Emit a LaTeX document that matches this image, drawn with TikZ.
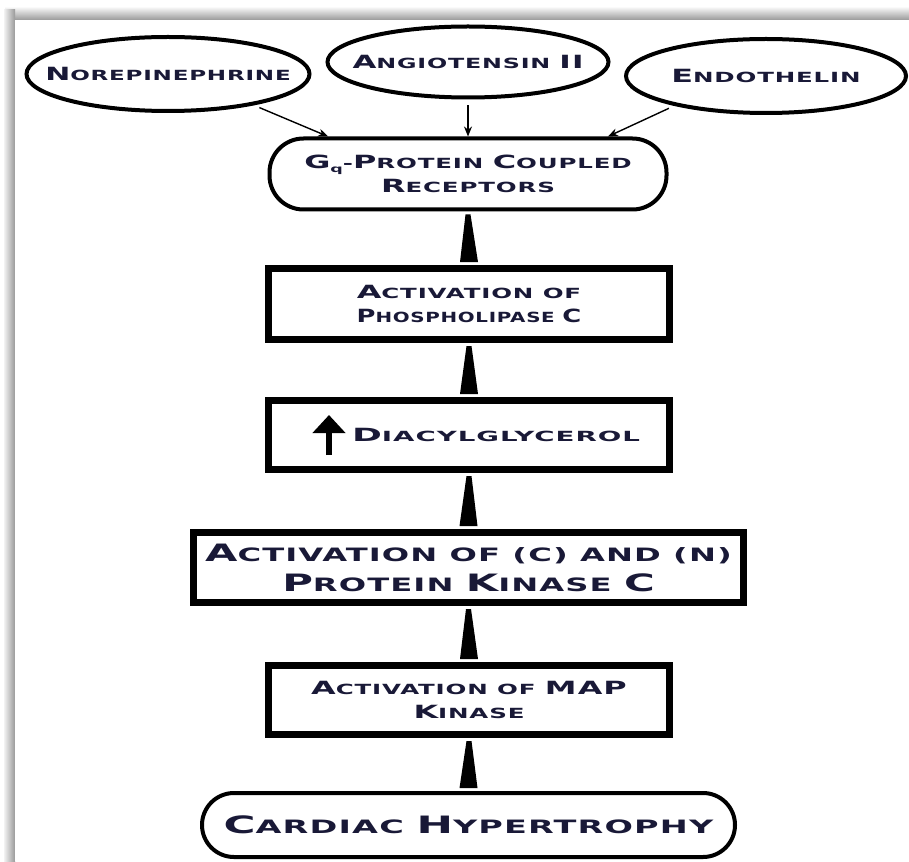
\documentclass[tikz,border=0pt]{standalone}
\usepackage{fontspec}
\usepackage{graphicx}
\usepackage{tikz}
\usetikzlibrary{shapes.geometric,arrows.meta,calc}
\newfontfamily\cpfont[FakeStretch=1.75,LetterSpace=6]{DejaVu Sans}
\definecolor{ink}{RGB}{25,25,55}
\newcommand{\Lc}[1]{\scalebox{1.3}{#1}}
\newcommand{\squeeze}[2]{\scalebox{#1}[1]{#2}}

\begin{document}
\begin{tikzpicture}[x=0.5pt, y=-0.5pt,
    every node/.style={text=ink, align=center, inner sep=0pt},
    txt/.style={font=\cpfont\bfseries\fontsize{7}{12}\selectfont},
    bigtxt/.style={font=\cpfont\bfseries\fontsize{9.2}{15}\selectfont},
    oval/.style={ellipse, draw=black, line width=2pt, txt},
    capsule/.style={rectangle, rounded corners=17pt, draw=black, line width=2pt},
    box/.style={rectangle, draw=black, line width=3.5pt},
    thinarrow/.style={-{Stealth[length=5pt,width=4pt]}, line width=0.7pt, shorten <=3pt}]
    % Frame
    \useasboundingbox (0,0) rectangle (909,861);
    \fill[white] (0,0) rectangle (909,861);
    \shade[top color=gray!10, bottom color=gray!80] (5,8) rectangle (909,20);
    \shade[left color=gray!10, right color=gray!80] (4,10) rectangle (15,861);
    \fill[white] (15,20) rectangle (909,861);
    % Nodes
    \node[oval, minimum width=141.5pt, minimum height=37pt] (norepi) at (168,74) {\makebox[0pt]{\squeeze{0.94}{\Lc{N}OREPINEPHRINE}}};
    \node[oval, minimum width=140.5pt, minimum height=35.5pt] (angio) at (468,62) {\makebox[0pt]{\squeeze{0.97}{\Lc{A}NGIOTENSIN \Lc{II}}}};
    \node[oval, minimum width=140pt, minimum height=37pt] (endo) at (766,76) {\makebox[0pt]{\Lc{E}NDOTHELIN}};
    \node[capsule, txt, minimum width=198.5pt, minimum height=35.5pt] (gq) at (468,174)
        {\Lc{G}\raisebox{-2pt}{\fontsize{5}{5}\selectfont q}-\Lc{P}ROTEIN \Lc{C}OUPLED\\\Lc{R}ECEPTORS};
    \node[box, txt, minimum width=200.5pt, minimum height=35.5pt] (plc) at (469,304)
        {\Lc{A}CTIVATION OF\\\squeeze{0.81}{\Lc{P}HOSPHOLIPASE \Lc{C}}};
    \node[box, txt, minimum width=200.5pt, minimum height=34.5pt] (dag) at (469,435)
        {\hspace*{27pt}\squeeze{1.13}{\Lc{D}IACYLGLYCEROL}};
    \node[box, bigtxt, minimum width=275pt, minimum height=35pt] (pkc) at (468.5,567.5)
        {\Lc{A}CTIVATION OF (C) AND (N)\\\Lc{P}ROTEIN \Lc{K}INASE \Lc{C}};
    \node[box, txt, minimum width=200.5pt, minimum height=34.5pt] (map) at (469,700)
        {\Lc{A}CTIVATION OF \Lc{MAP}\\\Lc{K}INASE};
    \node[capsule, bigtxt, rounded corners=16pt, minimum width=266.5pt, minimum height=32pt] (hyp) at (468.5,825)
        {\squeeze{1.04}{\Lc{C}ARDIAC \Lc{H}YPERTROPHY}};
    % Edges
    \draw[thinarrow] (norepi.-20) -- (gq.165);
    \draw[thinarrow, line width=1.2pt] (angio.south) -- (gq.north);
    \draw[thinarrow] (endo.198) -- (gq.15);
    \foreach \lo/\hi in {plc/gq, dag/plc, pkc/dag, map/pkc, hyp/map}
        \fill ($(\lo.north)+(-9,-3)$) -- ($(\lo.north)+(9,-3)$) -- ($(\hi.south)+(2.5,3)$) -- ($(\hi.south)+(-2.5,3)$) -- cycle;
    \draw[line width=3pt, -{Triangle[width=16pt,length=9pt]}] ($(dag.west)+(64,20)$) -- ($(dag.west)+(64,-20)$);
\end{tikzpicture}
\end{document}
